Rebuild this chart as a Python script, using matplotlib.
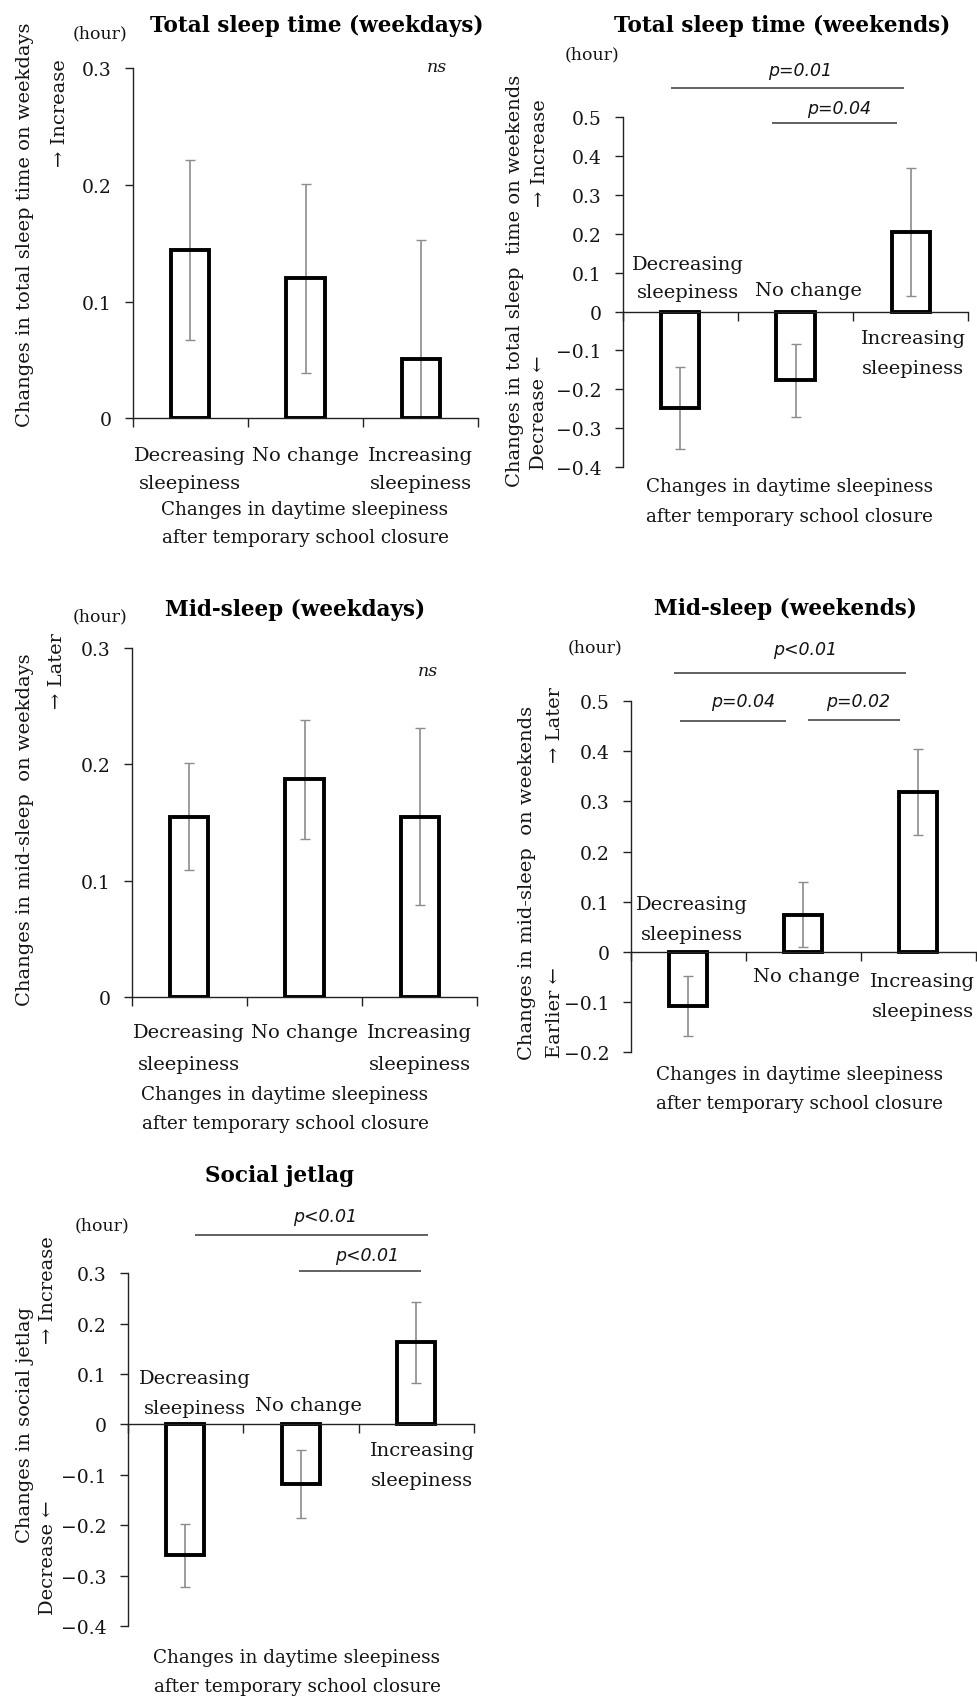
import matplotlib
matplotlib.use('Agg')
import matplotlib.pyplot as plt
from matplotlib.ticker import FixedLocator, FuncFormatter, NullFormatter
import numpy as np

# ---------------- data ----------------
categories = ["Decreasing\nsleepiness", "No change", "Increasing\nsleepiness"]

tst_wd_mean = [0.144, 0.120, 0.051]
tst_wd_err = [0.077, 0.081, 0.102]

tst_we_mean = [-0.248, -0.177, 0.205]
tst_we_err = [0.105, 0.093, 0.164]

mid_wd_mean = [0.155, 0.187, 0.155]
mid_wd_err = [0.046, 0.051, 0.076]

mid_we_mean = [-0.108, 0.074, 0.318]
mid_we_err = [0.060, 0.065, 0.086]

sjl_mean = [-0.260, -0.118, 0.163]
sjl_err = [0.063, 0.067, 0.080]

# significance brackets: (x start, x end, y level, label, label x, label y)
tst_we_sig = [(-0.08, 1.94, 0.574, "p=0.01", 1.04, 0.620),
              (0.80, 1.88, 0.484, "p=0.04", 1.375, 0.523)]
mid_we_sig = [(-0.12, 1.894, 0.555, "p<0.01", 1.016, 0.604),
              (-0.07, 0.85, 0.461, "p=0.04", 0.48, 0.500),
              (1.045, 1.84, 0.462, "p=0.02", 1.48, 0.500)]
sjl_sig = [(0.084, 2.098, 0.377, "p<0.01", 1.21, 0.413),
           (0.98, 2.04, 0.304, "p<0.01", 1.57, 0.336)]

xlabel_lines = ["Changes in daytime sleepiness", "after temporary school closure"]

# ---------------- layout ----------------
W, H = 977, 1699
SERIF = 'DejaVu Serif'
TXT = '#141414'
fig = plt.figure(figsize=(W / 100, H / 100), dpi=100)


def fx(x):
    return x / W


def fy(y):
    return 1 - y / H


panels = [
    dict(mean=tst_wd_mean, err=tst_wd_err, box=(132.7, 478.3, 68.9, 419.4), ylim=(0.0, 0.3),
         title="Total sleep time (weekdays)", title_xy=(317, 26), hour_xy=(100, 34),
         ylabel="Changes in total sleep time on weekdays", ylabel_xy=(25, 225),
         arrows=[("\u2192 Increase", 60, 113)], xlabel_xy=(305, 510, 538),
         cat=[(0, [456.0, 484.5]), (1, [456.0]), (2, [456.0, 484.5])],
         ns=(437, 67), sig=[]),
    dict(mean=tst_we_mean, err=tst_we_err, box=(622.7, 968.3, 117.8, 468.3), ylim=(-0.4, 0.5),
         title="Total sleep time (weekends)", title_xy=(782, 26), hour_xy=(592, 55),
         ylabel="Changes in total sleep  time on weekends", ylabel_xy=(515, 281),
         arrows=[("\u2192 Increase", 540, 153), ("Decrease \u2190", 539, 413)],
         xlabel_xy=(790, 487, 517),
         cat=[(0.069, [265.2, 292.7]), (1.11, [291.0]), (2.02, [339.2, 368.5])],
         ns=None, sig=tst_we_sig),
    dict(mean=mid_wd_mean, err=mid_wd_err, box=(131.5, 477.5, 648.8, 998.4), ylim=(0.0, 0.3),
         title="Mid-sleep (weekdays)", title_xy=(295, 610), hour_xy=(100, 617),
         ylabel="Changes in mid-sleep  on weekdays", ylabel_xy=(25, 830),
         arrows=[("\u2192 Later", 57, 671)], xlabel_xy=(285, 1095, 1124),
         cat=[(0, [1033.5, 1065]), (1, [1033.5]), (2, [1033.5, 1065])],
         ns=(428, 671), sig=[]),
    dict(mean=mid_we_mean, err=mid_we_err, box=(630.7, 975.5, 702.0, 1053.2), ylim=(-0.2, 0.5),
         title="Mid-sleep (weekends)", title_xy=(785, 609), hour_xy=(595, 648),
         ylabel="Changes in mid-sleep  on weekends", ylabel_xy=(527, 883),
         arrows=[("\u2192 Later", 555, 725), ("Earlier \u2190", 555, 1013)],
         xlabel_xy=(800, 1075, 1104),
         cat=[(0.03, [905.0, 935.4]), (1.03, [977.5]), (2.04, [981.8, 1012.0])],
         ns=None, sig=mid_we_sig),
    dict(mean=sjl_mean, err=sjl_err, box=(127.7, 474.0, 1274.3, 1627.0), ylim=(-0.4, 0.3),
         title="Social jetlag", title_xy=(280, 1176), hour_xy=(102, 1226),
         ylabel="Changes in social jetlag", ylabel_xy=(25, 1425),
         arrows=[("\u2192 Increase", 48, 1290), ("Decrease \u2190", 48, 1558)],
         xlabel_xy=(297, 1658, 1687),
         cat=[(0.083, [1379.3, 1409.0]), (1.065, [1405.6]), (2.05, [1451.0, 1481.0])],
         ns=None, sig=sjl_sig),
]


def tick_fmt(v, pos):
    if abs(v) < 1e-9:
        return '0'
    return f'{v:.1f}'.replace('-', '\u2212')


x = np.arange(len(categories))
for p in panels:
    l, r, t, b = p['box']
    ax = fig.add_axes([fx(l), fy(b), (r - l) / W, (b - t) / H])
    ymin, ymax = p['ylim']
    ax.set_xlim(-0.5, 2.5)
    ax.set_ylim(ymin, ymax)

    # bars: fill, error bars, then outline on top
    ax.bar(x, p['mean'], width=0.33, color='white', edgecolor='none', zorder=1)
    ax.errorbar(x, p['mean'], yerr=p['err'], fmt='none', ecolor='#8c8c8c',
                elinewidth=1.2, capsize=3.5, capthick=1.0, zorder=2)
    ax.bar(x, p['mean'], width=0.33, facecolor='none', edgecolor='black',
           linewidth=2.8, joinstyle='miter', zorder=3)

    for s in ['top', 'right']:
        ax.spines[s].set_visible(False)
    ax.spines['bottom'].set_position(('data', 0))
    for s in ['left', 'bottom']:
        ax.spines[s].set_linewidth(1.0)
        ax.spines[s].set_color('#222222')
        ax.spines[s].set_zorder(4)

    yt = np.round(np.arange(ymin, ymax + 1e-6, 0.1), 2)
    ax.yaxis.set_major_locator(FixedLocator(yt))
    ax.yaxis.set_major_formatter(FuncFormatter(tick_fmt))
    ax.xaxis.set_major_locator(FixedLocator([-0.5, 0.5, 1.5, 2.5]))
    ax.xaxis.set_major_formatter(NullFormatter())
    ax.tick_params(axis='y', direction='out', length=6, width=1.0, color='#222222',
                   pad=9, labelsize=13.5, labelcolor=TXT)
    ax.tick_params(axis='x', direction='out', length=6.5, width=1.0, color='#222222')
    for lab in ax.get_yticklabels():
        lab.set_family(SERIF)
    ax.patch.set_visible(False)

    def px2data(ypx):
        return ymax - (ypx - t) / (b - t) * (ymax - ymin)

    # category labels
    for (cx, ys), name in zip(p['cat'], categories):
        for line, ypx in zip(name.split("\n"), ys):
            ax.text(cx, px2data(ypx), line, ha='center', va='center', fontsize=14,
                    family=SERIF, color=TXT, clip_on=False)

    # significance brackets
    for (x0, x1, yv, lab, tx, ty) in p['sig']:
        ax.plot([x0, x1], [yv, yv], color='#555555', lw=1.3, clip_on=False,
                solid_capstyle='butt')
        ax.text(tx, ty, lab, ha='center', va='center', fontsize=12.5,
                family='DejaVu Sans', style='italic', color=TXT, clip_on=False)

    # titles and labels
    fig.text(fx(p['title_xy'][0]), fy(p['title_xy'][1]), p['title'], ha='center',
             va='center', fontsize=15.5, fontweight='bold', family=SERIF, color='black')
    fig.text(fx(p['hour_xy'][0]), fy(p['hour_xy'][1]), "(hour)", ha='center',
             va='center', fontsize=12.5, family=SERIF, color=TXT)
    fig.text(fx(p['ylabel_xy'][0]), fy(p['ylabel_xy'][1]), p['ylabel'], rotation=90,
             ha='center', va='center', fontsize=14, family=SERIF, color=TXT)
    for lab, ax_x, ax_y in p['arrows']:
        fig.text(fx(ax_x), fy(ax_y), lab, rotation=90, ha='center', va='center',
                 fontsize=14, family=SERIF, color=TXT)
    xl, y1, y2 = p['xlabel_xy']
    fig.text(fx(xl), fy(y1), xlabel_lines[0], ha='center', va='center',
             fontsize=13.2, family=SERIF, color=TXT)
    fig.text(fx(xl), fy(y2), xlabel_lines[1], ha='center', va='center',
             fontsize=13.2, family=SERIF, color=TXT)
    if p['ns'] is not None:
        fig.text(fx(p['ns'][0]), fy(p['ns'][1]), "ns", ha='center', va='center',
                 fontsize=12.5, family=SERIF, style='italic', color=TXT)

fig.savefig('out.png', dpi=100, facecolor='white')
